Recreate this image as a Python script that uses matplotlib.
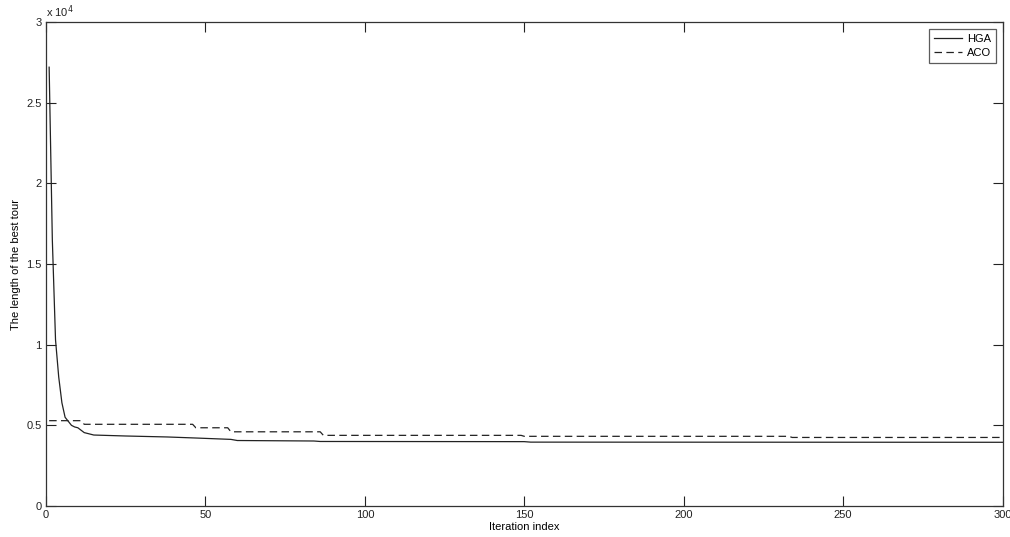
import numpy as np
import matplotlib
matplotlib.use("Agg")
import matplotlib.pyplot as plt
from matplotlib.ticker import FuncFormatter

plt.rcParams['font.family'] = ['Liberation Sans', 'DejaVu Sans']

# values (iteration, best tour length)
hga_iter = [1, 2, 3, 4, 5, 6, 7, 8, 9, 10, 11, 12, 13, 15, 25, 38, 47, 58, 60, 84, 86, 150, 152, 300]
hga_len = [27200, 16500, 10300, 8000, 6400, 5500, 5250, 5000, 4900, 4850, 4700, 4550, 4500,
           4400, 4340, 4280, 4215, 4130, 4060, 4030, 4000, 3990, 3960, 3950]

aco_iter = [1, 11, 12, 46, 47, 57, 58, 86, 87, 149, 150, 233, 234, 300]
aco_len = [5290, 5290, 5065, 5065, 4850, 4850, 4600, 4600, 4380, 4380, 4320, 4320, 4250, 4250]

fig = plt.figure(figsize=(10.1, 5.37), dpi=100)
ax = fig.add_axes([0.0455, 0.0577, 0.9472, 0.9013])

ax.plot(hga_iter, hga_len, color='#222222', lw=0.9, ls='-', label='HGA')
ax.plot(aco_iter, aco_len, color='#222222', lw=0.9, ls=(0, (6, 3.5)), label='ACO')

ax.set_xlim(0, 300)
ax.set_ylim(0, 30000)
ax.set_xticks(np.arange(0, 301, 50))
ax.set_yticks(np.arange(0, 30001, 5000))
ax.yaxis.set_major_formatter(FuncFormatter(lambda v, p: f"{v / 1e4:g}"))
ax.tick_params(direction='in', length=7, width=0.8, top=True, right=True,
               labelsize=8, colors='#222222', pad=3)
for s in ax.spines.values():
    s.set_color('#333333')
    s.set_linewidth(0.9)

ax.text(0.0, 1.005, r'x 10$^{4}$', transform=ax.transAxes, fontsize=8,
        ha='left', va='bottom', color='#222222')
ax.set_xlabel('Iteration index', fontsize=8, labelpad=1)
ax.set_ylabel('The length of the best tour', fontsize=8)
ax.yaxis.set_label_coords(-0.026, 0.5)

leg = ax.legend(loc='upper right', fontsize=8, handlelength=2.6, handletextpad=0.4,
                frameon=True, fancybox=False, borderaxespad=0.6, borderpad=0.45,
                labelspacing=0.35)
leg.get_frame().set_edgecolor('#333333')
leg.get_frame().set_linewidth(0.9)

fig.savefig('out.png', dpi=100)
